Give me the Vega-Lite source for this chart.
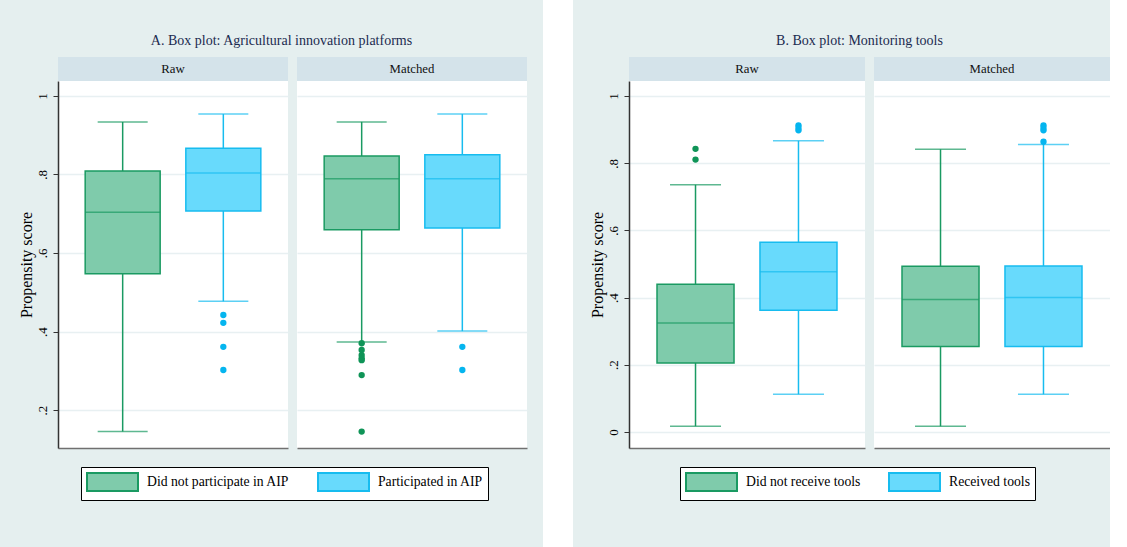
{
  "$schema": "https://vega.github.io/schema/vega-lite/v6.json",
  "background": "#e5efef",
  "padding": {"left": 17, "top": 0, "right": 0, "bottom": 0},
  "datasets": {
    "boxes": [
      {"panel": "A", "sample": "Raw", "group": "Did not participate in AIP", "lo": 0.145, "q1": 0.547, "med": 0.704, "q3": 0.809, "hi": 0.934},
      {"panel": "A", "sample": "Raw", "group": "Participated in AIP", "lo": 0.477, "q1": 0.707, "med": 0.804, "q3": 0.867, "hi": 0.954},
      {"panel": "A", "sample": "Matched", "group": "Did not participate in AIP", "lo": 0.373, "q1": 0.659, "med": 0.789, "q3": 0.847, "hi": 0.934},
      {"panel": "A", "sample": "Matched", "group": "Participated in AIP", "lo": 0.401, "q1": 0.664, "med": 0.789, "q3": 0.85, "hi": 0.954},
      {"panel": "B", "sample": "Raw", "group": "Did not receive tools", "lo": 0.017, "q1": 0.205, "med": 0.324, "q3": 0.44, "hi": 0.736},
      {"panel": "B", "sample": "Raw", "group": "Received tools", "lo": 0.112, "q1": 0.362, "med": 0.477, "q3": 0.565, "hi": 0.867},
      {"panel": "B", "sample": "Matched", "group": "Did not receive tools", "lo": 0.017, "q1": 0.254, "med": 0.394, "q3": 0.493, "hi": 0.842},
      {"panel": "B", "sample": "Matched", "group": "Received tools", "lo": 0.112, "q1": 0.254, "med": 0.4, "q3": 0.494, "hi": 0.856}
    ],
    "outliers": [
      {"panel": "A", "sample": "Raw", "group": "Participated in AIP", "value": 0.442},
      {"panel": "A", "sample": "Raw", "group": "Participated in AIP", "value": 0.422},
      {"panel": "A", "sample": "Raw", "group": "Participated in AIP", "value": 0.361},
      {"panel": "A", "sample": "Raw", "group": "Participated in AIP", "value": 0.302},
      {"panel": "A", "sample": "Matched", "group": "Did not participate in AIP", "value": 0.37},
      {"panel": "A", "sample": "Matched", "group": "Did not participate in AIP", "value": 0.353},
      {"panel": "A", "sample": "Matched", "group": "Did not participate in AIP", "value": 0.34},
      {"panel": "A", "sample": "Matched", "group": "Did not participate in AIP", "value": 0.332},
      {"panel": "A", "sample": "Matched", "group": "Did not participate in AIP", "value": 0.327},
      {"panel": "A", "sample": "Matched", "group": "Did not participate in AIP", "value": 0.289},
      {"panel": "A", "sample": "Matched", "group": "Did not participate in AIP", "value": 0.145},
      {"panel": "A", "sample": "Matched", "group": "Participated in AIP", "value": 0.361},
      {"panel": "A", "sample": "Matched", "group": "Participated in AIP", "value": 0.302},
      {"panel": "B", "sample": "Raw", "group": "Did not receive tools", "value": 0.843},
      {"panel": "B", "sample": "Raw", "group": "Did not receive tools", "value": 0.811},
      {"panel": "B", "sample": "Raw", "group": "Received tools", "value": 0.913},
      {"panel": "B", "sample": "Raw", "group": "Received tools", "value": 0.905},
      {"panel": "B", "sample": "Raw", "group": "Received tools", "value": 0.898},
      {"panel": "B", "sample": "Matched", "group": "Received tools", "value": 0.913},
      {"panel": "B", "sample": "Matched", "group": "Received tools", "value": 0.905},
      {"panel": "B", "sample": "Matched", "group": "Received tools", "value": 0.898},
      {"panel": "B", "sample": "Matched", "group": "Received tools", "value": 0.864}
    ]
  },
  "spacing": 16,
  "resolve": {
    "scale": {"fill": "independent"},
    "legend": {"fill": "independent"}
  },
  "hconcat": [
    {
      "spacing": 0,
      "resolve": {"scale": {"fill": "shared"}, "legend": {"fill": "shared"}},
      "vconcat": [
        {
          "width": 469, "height": 57,
          "data": {"values": [{"label": "A. Box plot: Agricultural innovation platforms"}]},
          "mark": {"type": "text", "font": "Liberation Serif", "fontSize": 14, "color": "#1c2b4f", "baseline": "middle", "dx": -11, "dy": 12.5},
          "encoding": {"text": {"field": "label", "type": "nominal"}}
        },
        {
          "spacing": 9,
          "resolve": {"scale": {"fill": "shared"}, "legend": {"fill": "shared"}},
          "hconcat": [
            {
              "spacing": 0,
              "vconcat": [
                {
                  "width": 230, "height": 24,
                  "view": {"fill": "#d4e3ea", "stroke": null},
                  "data": {"values": [{"label": "Raw"}]},
                  "mark": {"type": "text", "font": "Liberation Serif", "fontSize": 12.8, "color": "#111111"},
                  "encoding": {"text": {"field": "label", "type": "nominal"}}
                },
                {
                  "width": 230, "height": 367,
                  "view": {"fill": "#ffffff", "stroke": null},
                  "encoding": {
                    "x": {"field": "group", "type": "nominal", "title": null,
                      "scale": {"domain": ["Did not participate in AIP", "Participated in AIP"], "paddingInner": 0.255, "paddingOuter": 0.27},
                      "axis": {"labels": false, "ticks": false, "domain": true, "domainColor": "#707070", "domainWidth": 1.5, "grid": false, "title": null}}
                  },
                  "layer": [
                    {
                      "data": {"name": "boxes"},
                      "transform": [{"filter": "datum.panel == 'A' && datum.sample == 'Raw'"}],
                      "mark": {"type": "rule", "strokeWidth": 1.5},
                      "encoding": {
                        "y": {"field": "lo", "type": "quantitative", "title": "Propensity score",
                          "scale": {"domain": [0.1032, 1.0382], "nice": false, "zero": false},
                          "axis": {"values": [0.2, 0.4, 0.6, 0.8, 1], "labelExpr": "datum.value == 0 ? '0' : datum.value == 1 ? '1' : replace(format(datum.value, '.1f'), '0.', '.')", "labelAngle": 270, "labelAlign": "center", "labelBaseline": "bottom", "labelPadding": 4, "tickSize": 5, "tickColor": "#333333", "grid": true, "domain": true, "domainColor": "#333333", "domainWidth": 1.5, "titlePadding": 2}},
                        "y2": {"field": "hi"},
                        "stroke": {"condition": {"test": "datum.group == 'Did not participate in AIP'", "value": "#1a9a62"}, "value": "#17bcef"}
                      }
                    },
                    {
                      "data": {"name": "boxes"},
                      "transform": [{"filter": "datum.panel == 'A' && datum.sample == 'Raw'"}],
                      "mark": {"type": "bar", "strokeWidth": 1.5},
                      "encoding": {
                        "y": {"field": "q1", "type": "quantitative", "title": "Propensity score", "scale": {"domain": [0.1032, 1.0382], "nice": false, "zero": false}},
                        "y2": {"field": "q3"},
                        "fill": {"field": "group", "type": "nominal", "scale": {"domain": ["Did not participate in AIP", "Participated in AIP"], "range": ["#7fcbab", "#68dafc"]},
                          "legend": {"title": null, "orient": "none", "legendX": 23, "legendY": 467, "direction": "horizontal", "symbolType": "M-1,-1H4.667V1H-1Z", "symbolSize": 324, "symbolStrokeWidth": 2, "symbolStrokeColor": {"expr": "datum.value == 'Did not participate in AIP' ? '#1a9a62' : '#17bcef'"}, "labelFont": "Liberation Serif", "labelFontSize": 13.7, "labelColor": "#000000", "labelOffset": 41, "columnPadding": 24, "padding": 5, "strokeColor": "#000000", "fillColor": "#ffffff"}},
                        "stroke": {"condition": {"test": "datum.group == 'Did not participate in AIP'", "value": "#1a9a62"}, "value": "#17bcef"}
                      }
                    },
                    {
                      "data": {"name": "boxes"},
                      "transform": [{"filter": "datum.panel == 'A' && datum.sample == 'Raw'"}],
                      "mark": {"type": "tick", "size": 75, "thickness": 1.5},
                      "encoding": {
                        "y": {"field": "med", "type": "quantitative", "title": "Propensity score", "scale": {"domain": [0.1032, 1.0382], "nice": false, "zero": false}},
                        "color": {"condition": {"test": "datum.group == 'Did not participate in AIP'", "value": "#1a9a62"}, "value": "#17bcef"}
                      }
                    },
                    {
                      "data": {"name": "boxes"},
                      "transform": [{"filter": "datum.panel == 'A' && datum.sample == 'Raw'"}],
                      "mark": {"type": "tick", "size": 50, "thickness": 1.5},
                      "encoding": {
                        "y": {"field": "lo", "type": "quantitative", "title": "Propensity score", "scale": {"domain": [0.1032, 1.0382], "nice": false, "zero": false}},
                        "color": {"condition": {"test": "datum.group == 'Did not participate in AIP'", "value": "#1a9a62"}, "value": "#17bcef"}
                      }
                    },
                    {
                      "data": {"name": "boxes"},
                      "transform": [{"filter": "datum.panel == 'A' && datum.sample == 'Raw'"}],
                      "mark": {"type": "tick", "size": 50, "thickness": 1.5},
                      "encoding": {
                        "y": {"field": "hi", "type": "quantitative", "title": "Propensity score", "scale": {"domain": [0.1032, 1.0382], "nice": false, "zero": false}},
                        "color": {"condition": {"test": "datum.group == 'Did not participate in AIP'", "value": "#1a9a62"}, "value": "#17bcef"}
                      }
                    },
                    {
                      "data": {"name": "outliers"},
                      "transform": [{"filter": "datum.panel == 'A' && datum.sample == 'Raw'"}],
                      "mark": {"type": "point", "filled": true, "size": 40, "opacity": 1},
                      "encoding": {
                        "y": {"field": "value", "type": "quantitative", "title": "Propensity score", "scale": {"domain": [0.1032, 1.0382], "nice": false, "zero": false}},
                        "color": {"condition": {"test": "datum.group == 'Did not participate in AIP'", "value": "#0f9457"}, "value": "#05b5ef"}
                      }
                    }
                  ]
                }
              ]
            },
            {
              "spacing": 0,
              "vconcat": [
                {
                  "width": 230, "height": 24,
                  "view": {"fill": "#d4e3ea", "stroke": null},
                  "data": {"values": [{"label": "Matched"}]},
                  "mark": {"type": "text", "font": "Liberation Serif", "fontSize": 12.8, "color": "#111111"},
                  "encoding": {"text": {"field": "label", "type": "nominal"}}
                },
                {
                  "width": 230, "height": 367,
                  "view": {"fill": "#ffffff", "stroke": null},
                  "encoding": {
                    "x": {"field": "group", "type": "nominal", "title": null,
                      "scale": {"domain": ["Did not participate in AIP", "Participated in AIP"], "paddingInner": 0.255, "paddingOuter": 0.27},
                      "axis": {"labels": false, "ticks": false, "domain": true, "domainColor": "#707070", "domainWidth": 1.5, "grid": false, "title": null}}
                  },
                  "layer": [
                    {
                      "data": {"name": "boxes"},
                      "transform": [{"filter": "datum.panel == 'A' && datum.sample == 'Matched'"}],
                      "mark": {"type": "rule", "strokeWidth": 1.5},
                      "encoding": {
                        "y": {"field": "lo", "type": "quantitative", "title": null,
                          "scale": {"domain": [0.1032, 1.0382], "nice": false, "zero": false},
                          "axis": {"values": [0.2, 0.4, 0.6, 0.8, 1], "labels": false, "ticks": false, "domain": false, "grid": true, "title": null}},
                        "y2": {"field": "hi"},
                        "stroke": {"condition": {"test": "datum.group == 'Did not participate in AIP'", "value": "#1a9a62"}, "value": "#17bcef"}
                      }
                    },
                    {
                      "data": {"name": "boxes"},
                      "transform": [{"filter": "datum.panel == 'A' && datum.sample == 'Matched'"}],
                      "mark": {"type": "bar", "strokeWidth": 1.5},
                      "encoding": {
                        "y": {"field": "q1", "type": "quantitative", "title": null, "scale": {"domain": [0.1032, 1.0382], "nice": false, "zero": false}},
                        "y2": {"field": "q3"},
                        "fill": {"field": "group", "type": "nominal", "scale": {"domain": ["Did not participate in AIP", "Participated in AIP"], "range": ["#7fcbab", "#68dafc"]},
                          "legend": {"title": null, "orient": "none", "legendX": 23, "legendY": 467, "direction": "horizontal", "symbolType": "M-1,-1H4.667V1H-1Z", "symbolSize": 324, "symbolStrokeWidth": 2, "symbolStrokeColor": {"expr": "datum.value == 'Did not participate in AIP' ? '#1a9a62' : '#17bcef'"}, "labelFont": "Liberation Serif", "labelFontSize": 13.7, "labelColor": "#000000", "labelOffset": 41, "columnPadding": 24, "padding": 5, "strokeColor": "#000000", "fillColor": "#ffffff"}},
                        "stroke": {"condition": {"test": "datum.group == 'Did not participate in AIP'", "value": "#1a9a62"}, "value": "#17bcef"}
                      }
                    },
                    {
                      "data": {"name": "boxes"},
                      "transform": [{"filter": "datum.panel == 'A' && datum.sample == 'Matched'"}],
                      "mark": {"type": "tick", "size": 75, "thickness": 1.5},
                      "encoding": {
                        "y": {"field": "med", "type": "quantitative", "title": null, "scale": {"domain": [0.1032, 1.0382], "nice": false, "zero": false}},
                        "color": {"condition": {"test": "datum.group == 'Did not participate in AIP'", "value": "#1a9a62"}, "value": "#17bcef"}
                      }
                    },
                    {
                      "data": {"name": "boxes"},
                      "transform": [{"filter": "datum.panel == 'A' && datum.sample == 'Matched'"}],
                      "mark": {"type": "tick", "size": 50, "thickness": 1.5},
                      "encoding": {
                        "y": {"field": "lo", "type": "quantitative", "title": null, "scale": {"domain": [0.1032, 1.0382], "nice": false, "zero": false}},
                        "color": {"condition": {"test": "datum.group == 'Did not participate in AIP'", "value": "#1a9a62"}, "value": "#17bcef"}
                      }
                    },
                    {
                      "data": {"name": "boxes"},
                      "transform": [{"filter": "datum.panel == 'A' && datum.sample == 'Matched'"}],
                      "mark": {"type": "tick", "size": 50, "thickness": 1.5},
                      "encoding": {
                        "y": {"field": "hi", "type": "quantitative", "title": null, "scale": {"domain": [0.1032, 1.0382], "nice": false, "zero": false}},
                        "color": {"condition": {"test": "datum.group == 'Did not participate in AIP'", "value": "#1a9a62"}, "value": "#17bcef"}
                      }
                    },
                    {
                      "data": {"name": "outliers"},
                      "transform": [{"filter": "datum.panel == 'A' && datum.sample == 'Matched'"}],
                      "mark": {"type": "point", "filled": true, "size": 40, "opacity": 1},
                      "encoding": {
                        "y": {"field": "value", "type": "quantitative", "title": null, "scale": {"domain": [0.1032, 1.0382], "nice": false, "zero": false}},
                        "color": {"condition": {"test": "datum.group == 'Did not participate in AIP'", "value": "#0f9457"}, "value": "#05b5ef"}
                      }
                    }
                  ]
                }
              ]
            }
          ]
        }
      ]
    },
    {
      "width": 30, "height": 547,
      "view": {"fill": "#ffffff", "stroke": null},
      "data": {"values": [{"a": 1}]},
      "mark": {"type": "point", "opacity": 0}
    },
    {
      "spacing": 0,
      "resolve": {"scale": {"fill": "shared"}, "legend": {"fill": "shared"}},
      "vconcat": [
        {
          "width": 481, "height": 57,
          "data": {"values": [{"label": "B. Box plot: Monitoring tools"}]},
          "mark": {"type": "text", "font": "Liberation Serif", "fontSize": 14, "color": "#1c2b4f", "baseline": "middle", "dx": -10, "dy": 12.5},
          "encoding": {"text": {"field": "label", "type": "nominal"}}
        },
        {
          "spacing": 9,
          "resolve": {"scale": {"fill": "shared"}, "legend": {"fill": "shared"}},
          "hconcat": [
            {
              "spacing": 0,
              "vconcat": [
                {
                  "width": 236, "height": 24,
                  "view": {"fill": "#d4e3ea", "stroke": null},
                  "data": {"values": [{"label": "Raw"}]},
                  "mark": {"type": "text", "font": "Liberation Serif", "fontSize": 12.8, "color": "#111111"},
                  "encoding": {"text": {"field": "label", "type": "nominal"}}
                },
                {
                  "width": 236, "height": 367,
                  "view": {"fill": "#ffffff", "stroke": null},
                  "encoding": {
                    "x": {"field": "group", "type": "nominal", "title": null,
                      "scale": {"domain": ["Did not receive tools", "Received tools"], "paddingInner": 0.252, "paddingOuter": 0.272},
                      "axis": {"labels": false, "ticks": false, "domain": true, "domainColor": "#707070", "domainWidth": 1.5, "grid": false, "title": null}}
                  },
                  "layer": [
                    {
                      "data": {"name": "boxes"},
                      "transform": [{"filter": "datum.panel == 'B' && datum.sample == 'Raw'"}],
                      "mark": {"type": "rule", "strokeWidth": 1.5},
                      "encoding": {
                        "y": {"field": "lo", "type": "quantitative", "title": "Propensity score",
                          "scale": {"domain": [-0.048, 1.045], "nice": false, "zero": false},
                          "axis": {"values": [0, 0.2, 0.4, 0.6, 0.8, 1], "labelExpr": "datum.value == 0 ? '0' : datum.value == 1 ? '1' : replace(format(datum.value, '.1f'), '0.', '.')", "labelAngle": 270, "labelAlign": "center", "labelBaseline": "bottom", "labelPadding": 4, "tickSize": 5, "tickColor": "#333333", "grid": true, "domain": true, "domainColor": "#333333", "domainWidth": 1.5, "titlePadding": 2}},
                        "y2": {"field": "hi"},
                        "stroke": {"condition": {"test": "datum.group == 'Did not receive tools'", "value": "#1a9a62"}, "value": "#17bcef"}
                      }
                    },
                    {
                      "data": {"name": "boxes"},
                      "transform": [{"filter": "datum.panel == 'B' && datum.sample == 'Raw'"}],
                      "mark": {"type": "bar", "strokeWidth": 1.5},
                      "encoding": {
                        "y": {"field": "q1", "type": "quantitative", "title": "Propensity score", "scale": {"domain": [-0.048, 1.045], "nice": false, "zero": false}},
                        "y2": {"field": "q3"},
                        "fill": {"field": "group", "type": "nominal", "scale": {"domain": ["Did not receive tools", "Received tools"], "range": ["#7fcbab", "#68dafc"]},
                          "legend": {"title": null, "orient": "none", "legendX": 51, "legendY": 467, "direction": "horizontal", "symbolType": "M-1,-1H4.667V1H-1Z", "symbolSize": 324, "symbolStrokeWidth": 2, "symbolStrokeColor": {"expr": "datum.value == 'Did not receive tools' ? '#1a9a62' : '#17bcef'"}, "labelFont": "Liberation Serif", "labelFontSize": 13.7, "labelColor": "#000000", "labelOffset": 41, "columnPadding": 24, "padding": 5, "strokeColor": "#000000", "fillColor": "#ffffff"}},
                        "stroke": {"condition": {"test": "datum.group == 'Did not receive tools'", "value": "#1a9a62"}, "value": "#17bcef"}
                      }
                    },
                    {
                      "data": {"name": "boxes"},
                      "transform": [{"filter": "datum.panel == 'B' && datum.sample == 'Raw'"}],
                      "mark": {"type": "tick", "size": 77, "thickness": 1.5},
                      "encoding": {
                        "y": {"field": "med", "type": "quantitative", "title": "Propensity score", "scale": {"domain": [-0.048, 1.045], "nice": false, "zero": false}},
                        "color": {"condition": {"test": "datum.group == 'Did not receive tools'", "value": "#1a9a62"}, "value": "#17bcef"}
                      }
                    },
                    {
                      "data": {"name": "boxes"},
                      "transform": [{"filter": "datum.panel == 'B' && datum.sample == 'Raw'"}],
                      "mark": {"type": "tick", "size": 51, "thickness": 1.5},
                      "encoding": {
                        "y": {"field": "lo", "type": "quantitative", "title": "Propensity score", "scale": {"domain": [-0.048, 1.045], "nice": false, "zero": false}},
                        "color": {"condition": {"test": "datum.group == 'Did not receive tools'", "value": "#1a9a62"}, "value": "#17bcef"}
                      }
                    },
                    {
                      "data": {"name": "boxes"},
                      "transform": [{"filter": "datum.panel == 'B' && datum.sample == 'Raw'"}],
                      "mark": {"type": "tick", "size": 51, "thickness": 1.5},
                      "encoding": {
                        "y": {"field": "hi", "type": "quantitative", "title": "Propensity score", "scale": {"domain": [-0.048, 1.045], "nice": false, "zero": false}},
                        "color": {"condition": {"test": "datum.group == 'Did not receive tools'", "value": "#1a9a62"}, "value": "#17bcef"}
                      }
                    },
                    {
                      "data": {"name": "outliers"},
                      "transform": [{"filter": "datum.panel == 'B' && datum.sample == 'Raw'"}],
                      "mark": {"type": "point", "filled": true, "size": 40, "opacity": 1},
                      "encoding": {
                        "y": {"field": "value", "type": "quantitative", "title": "Propensity score", "scale": {"domain": [-0.048, 1.045], "nice": false, "zero": false}},
                        "color": {"condition": {"test": "datum.group == 'Did not receive tools'", "value": "#0f9457"}, "value": "#05b5ef"}
                      }
                    }
                  ]
                }
              ]
            },
            {
              "spacing": 0,
              "vconcat": [
                {
                  "width": 236, "height": 24,
                  "view": {"fill": "#d4e3ea", "stroke": null},
                  "data": {"values": [{"label": "Matched"}]},
                  "mark": {"type": "text", "font": "Liberation Serif", "fontSize": 12.8, "color": "#111111"},
                  "encoding": {"text": {"field": "label", "type": "nominal"}}
                },
                {
                  "width": 236, "height": 367,
                  "view": {"fill": "#ffffff", "stroke": null},
                  "encoding": {
                    "x": {"field": "group", "type": "nominal", "title": null,
                      "scale": {"domain": ["Did not receive tools", "Received tools"], "paddingInner": 0.252, "paddingOuter": 0.272},
                      "axis": {"labels": false, "ticks": false, "domain": true, "domainColor": "#707070", "domainWidth": 1.5, "grid": false, "title": null}}
                  },
                  "layer": [
                    {
                      "data": {"name": "boxes"},
                      "transform": [{"filter": "datum.panel == 'B' && datum.sample == 'Matched'"}],
                      "mark": {"type": "rule", "strokeWidth": 1.5},
                      "encoding": {
                        "y": {"field": "lo", "type": "quantitative", "title": null,
                          "scale": {"domain": [-0.048, 1.045], "nice": false, "zero": false},
                          "axis": {"values": [0, 0.2, 0.4, 0.6, 0.8, 1], "labels": false, "ticks": false, "domain": false, "grid": true, "title": null}},
                        "y2": {"field": "hi"},
                        "stroke": {"condition": {"test": "datum.group == 'Did not receive tools'", "value": "#1a9a62"}, "value": "#17bcef"}
                      }
                    },
                    {
                      "data": {"name": "boxes"},
                      "transform": [{"filter": "datum.panel == 'B' && datum.sample == 'Matched'"}],
                      "mark": {"type": "bar", "strokeWidth": 1.5},
                      "encoding": {
                        "y": {"field": "q1", "type": "quantitative", "title": null, "scale": {"domain": [-0.048, 1.045], "nice": false, "zero": false}},
                        "y2": {"field": "q3"},
                        "fill": {"field": "group", "type": "nominal", "scale": {"domain": ["Did not receive tools", "Received tools"], "range": ["#7fcbab", "#68dafc"]},
                          "legend": {"title": null, "orient": "none", "legendX": 51, "legendY": 467, "direction": "horizontal", "symbolType": "M-1,-1H4.667V1H-1Z", "symbolSize": 324, "symbolStrokeWidth": 2, "symbolStrokeColor": {"expr": "datum.value == 'Did not receive tools' ? '#1a9a62' : '#17bcef'"}, "labelFont": "Liberation Serif", "labelFontSize": 13.7, "labelColor": "#000000", "labelOffset": 41, "columnPadding": 24, "padding": 5, "strokeColor": "#000000", "fillColor": "#ffffff"}},
                        "stroke": {"condition": {"test": "datum.group == 'Did not receive tools'", "value": "#1a9a62"}, "value": "#17bcef"}
                      }
                    },
                    {
                      "data": {"name": "boxes"},
                      "transform": [{"filter": "datum.panel == 'B' && datum.sample == 'Matched'"}],
                      "mark": {"type": "tick", "size": 77, "thickness": 1.5},
                      "encoding": {
                        "y": {"field": "med", "type": "quantitative", "title": null, "scale": {"domain": [-0.048, 1.045], "nice": false, "zero": false}},
                        "color": {"condition": {"test": "datum.group == 'Did not receive tools'", "value": "#1a9a62"}, "value": "#17bcef"}
                      }
                    },
                    {
                      "data": {"name": "boxes"},
                      "transform": [{"filter": "datum.panel == 'B' && datum.sample == 'Matched'"}],
                      "mark": {"type": "tick", "size": 51, "thickness": 1.5},
                      "encoding": {
                        "y": {"field": "lo", "type": "quantitative", "title": null, "scale": {"domain": [-0.048, 1.045], "nice": false, "zero": false}},
                        "color": {"condition": {"test": "datum.group == 'Did not receive tools'", "value": "#1a9a62"}, "value": "#17bcef"}
                      }
                    },
                    {
                      "data": {"name": "boxes"},
                      "transform": [{"filter": "datum.panel == 'B' && datum.sample == 'Matched'"}],
                      "mark": {"type": "tick", "size": 51, "thickness": 1.5},
                      "encoding": {
                        "y": {"field": "hi", "type": "quantitative", "title": null, "scale": {"domain": [-0.048, 1.045], "nice": false, "zero": false}},
                        "color": {"condition": {"test": "datum.group == 'Did not receive tools'", "value": "#1a9a62"}, "value": "#17bcef"}
                      }
                    },
                    {
                      "data": {"name": "outliers"},
                      "transform": [{"filter": "datum.panel == 'B' && datum.sample == 'Matched'"}],
                      "mark": {"type": "point", "filled": true, "size": 40, "opacity": 1},
                      "encoding": {
                        "y": {"field": "value", "type": "quantitative", "title": null, "scale": {"domain": [-0.048, 1.045], "nice": false, "zero": false}},
                        "color": {"condition": {"test": "datum.group == 'Did not receive tools'", "value": "#0f9457"}, "value": "#05b5ef"}
                      }
                    }
                  ]
                }
              ]
            }
          ]
        }
      ]
    }
  ],
  "config": {
    "font": "Liberation Serif",
    "view": {"stroke": null},
    "axis": {"labelFont": "Liberation Serif", "labelFontSize": 13, "labelColor": "#000000", "titleFont": "Liberation Serif", "titleFontSize": 16, "titleFontWeight": "normal", "titleColor": "#000000", "gridColor": "#e8f0f2", "gridWidth": 1.5}
  }
}
